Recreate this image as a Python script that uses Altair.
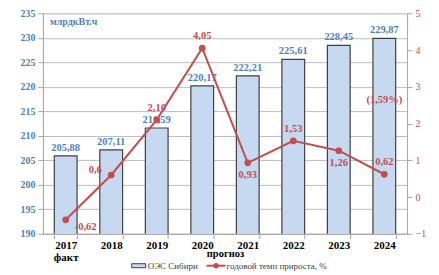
import altair as alt
import pandas as pd

years = ["2017", "2018", "2019", "2020", "2021", "2022", "2023", "2024"]
energy = [205.88, 207.11, 211.59, 220.17, 222.21, 225.61, 228.45, 229.87]
energy_labels = ["205,88", "207,11", "211,59", "220,17", "222,21", "225,61", "228,45", "229,87"]
growth = [-0.62, 0.6, 2.10, 4.05, 0.93, 1.53, 1.26, 0.62]
growth_labels = ["-0,62", "0,6", "2,10", "4,05", "0,93", "1,53", "1,26", "0,62"]
growth_pos = ["first", "left", "above", "above", "below", "above", "below", "above"]
note_year = ["2024"]
note_value = [2.64]
note_text = ["(1,59%)"]

FONT = "Liberation Serif"
BLUE_TXT = "#4F81BD"
RED = "#C0504D"
BAR_FILL = "#C6D9F1"

df = pd.DataFrame({
    "year": years, "energy": energy, "elabel": energy_labels,
    "growth": growth, "glabel": growth_labels, "pos": growth_pos,
})
note_df = pd.DataFrame({"year": note_year, "growth": note_value, "t": note_text})

W, H = 365, 221

x_enc = alt.X(
    "year:N", sort=years,
    scale=alt.Scale(paddingInner=0.5, paddingOuter=0.25),
    axis=alt.Axis(
        title=None, labelAngle=0, labelFont=FONT, labelFontSize=11,
        labelFontWeight="bold", labelColor="#000000", domainColor="#A6A6A6",
        tickColor="#A6A6A6", tickBand="extent", tickSize=5, labelPadding=1,
        labelExpr="datum.value == '2017' ? ['2017', 'факт'] : datum.value",
        labelLineHeight=12,
    ),
)

yl = alt.Y(
    "energy:Q",
    scale=alt.Scale(domain=[190, 235], nice=False, zero=False),
    axis=alt.Axis(
        title=None, values=list(range(190, 236, 5)), labelFont=FONT,
        labelFontSize=10, labelFontWeight="bold", labelColor=BLUE_TXT,
        grid=True, gridColor="#BFBFBF", domainColor="#A6A6A6",
        tickColor="#A6A6A6", tickSize=5, labelPadding=3, labelOverlap=False,
    ),
)

base = alt.Chart(df)

bars = base.mark_bar(fill=BAR_FILL, stroke="#404040", strokeWidth=1.2, clip=True).encode(x=x_enc, y=yl)
bar_text = base.mark_text(
    font=FONT, fontSize=10.5, fontWeight="bold", color=BLUE_TXT, baseline="bottom", dy=-3
).encode(x=x_enc, y=yl, text="elabel:N")

title_txt = alt.Chart(pd.DataFrame({"t": ["млрдкВт.ч"]})).mark_text(
    font=FONT, fontSize=10, fontWeight="bold", color=BLUE_TXT, align="left", baseline="middle"
).encode(x=alt.value(7), y=alt.value(9), text="t:N")

left = alt.layer(bars, bar_text, title_txt)

yr_axis = alt.Axis(
    title=None, orient="right", values=list(range(-1, 6)), labelFont=FONT,
    labelFontSize=10, labelColor=RED, grid=False,
    domainColor="#A6A6A6", tickColor="#A6A6A6", tickSize=5, labelPadding=3,
    labelOverlap=False,
)
yr = alt.Y("growth:Q", scale=alt.Scale(domain=[-1, 5], nice=False, zero=False), axis=yr_axis)

line = base.mark_line(color=RED, strokeWidth=2).encode(x=x_enc, y=yr)
pts = base.mark_point(filled=True, color=RED, size=45, opacity=1).encode(x=x_enc, y=yr)

def glabels(pos, **kw):
    return base.transform_filter(alt.datum.pos == pos).mark_text(
        font=FONT, fontSize=10.5, fontWeight="bold", color=RED, **kw
    ).encode(x=x_enc, y=yr, text="glabel:N")

lab_above = glabels("above", dy=-12)
lab_below = glabels("below", dy=12)
lab_first = glabels("first", dx=20, dy=7)
lab_left = glabels("left", dx=-16, dy=-5)

note = alt.Chart(note_df).mark_text(
    font=FONT, fontSize=10.5, fontWeight="bold", color=RED
).encode(x=x_enc, y=yr, text="t:N")

progn = alt.Chart(pd.DataFrame({"t": ["прогноз"]})).mark_text(
    font=FONT, fontSize=10.5, fontWeight="bold", color="#000000", baseline="middle"
).encode(x=alt.value(183), y=alt.value(H + 20), text="t:N")

# legend
LY = H + 32
leg_rect = alt.Chart(pd.DataFrame({"k": [1]})).mark_rect(fill=BAR_FILL, stroke="#404040", strokeWidth=1).encode(
    x=alt.value(89), x2=alt.value(103), y=alt.value(LY - 2), y2=alt.value(LY + 2)
)
leg_t1 = alt.Chart(pd.DataFrame({"t": ["ОЭС Сибири"]})).mark_text(
    font=FONT, fontSize=9, color="#404040", align="left", baseline="middle"
).encode(x=alt.value(105), y=alt.value(LY), text="t:N")
leg_line = alt.Chart(pd.DataFrame({"k": [1]})).mark_rule(color=RED, strokeWidth=2).encode(
    x=alt.value(164), x2=alt.value(183), y=alt.value(LY)
)
leg_pt = alt.Chart(pd.DataFrame({"k": [1]})).mark_point(filled=True, color=RED, size=30, opacity=1).encode(
    x=alt.value(173.5), y=alt.value(LY)
)
leg_t2 = alt.Chart(pd.DataFrame({"t": ["годовой темп прироста, %"]})).mark_text(
    font=FONT, fontSize=9, color="#404040", align="left", baseline="middle"
).encode(x=alt.value(184), y=alt.value(LY), text="t:N")

right = alt.layer(line, pts, lab_above, lab_below, lab_first, lab_left, note)

chart = alt.layer(left, right, progn, leg_rect, leg_t1, leg_line, leg_pt, leg_t2).resolve_scale(
    y="independent"
).properties(
    width=W, height=H, padding={"left": 12, "top": 0, "right": 5, "bottom": 0}
).configure_view(stroke=None).configure(background="white")

chart.save("out.html", embed_options={"renderer": "svg", "actions": False})
